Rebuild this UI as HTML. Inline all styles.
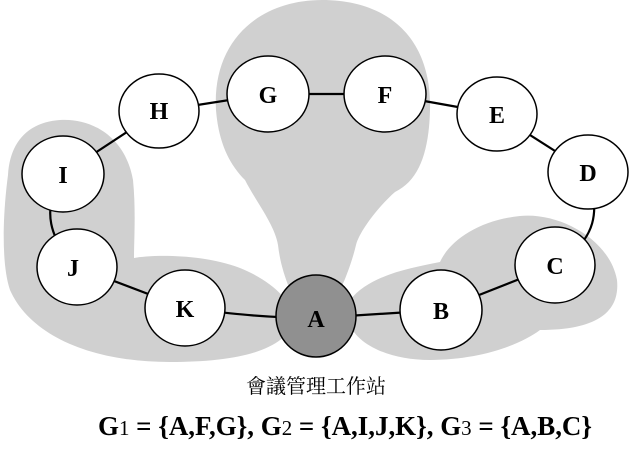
<!DOCTYPE html>
<html><head><meta charset="utf-8"><style>
body{margin:0;background:#fff;width:631px;height:450px;overflow:hidden}
svg{display:block}
</style></head><body>
<svg width="631" height="450" viewBox="0 0 631 450" xmlns="http://www.w3.org/2000/svg">
<g fill="#d0d0d0">
<path d="M216,110 C212,40 260,0 322,0 C390,0 432,40 430,110 C429,150 420,180 395,192 C380,205 360,230 356,245 C352,262 345,280 340,290 L290,290 C284,275 280,262 278,245 C275,225 255,200 245,180 C225,160 218,135 216,110 Z"/>
<path d="M8,175 C10,140 30,122 60,120 C90,118 125,135 133,180 C136,210 134,240 134,258 C150,255 200,253 240,268 C270,280 292,300 295,320 C285,350 240,362 170,362 C90,362 30,335 10,290 C0,260 4,205 8,175 Z"/>
<path d="M350,300 C370,275 410,268 440,262 C450,240 480,220 520,216 C560,212 610,240 617,280 C620,310 600,330 540,330 C520,345 480,360 430,360 C390,360 355,345 348,320 Z"/>
</g>
<g stroke="#000" stroke-width="2.2" fill="none">
<path d="M159,111 L268,94"/>
<path d="M268,94 L385,94"/>
<path d="M385,94 L497,114"/>
<path d="M497,114 L588,172"/>
<path d="M588,172 C600,210 598,240 555,265"/>
<path d="M555,265 L441,310"/>
<path d="M441,310 L316,318"/>
<path d="M316,318 C260,318 220,312 185,308"/>
<path d="M185,308 L77,267"/>
<path d="M77,267 C50,240 40,210 63,174"/>
<path d="M63,174 L159,111"/>
</g>
<g stroke="#000" stroke-width="1.5" fill="#fff">
<ellipse cx="159" cy="111" rx="40" ry="37"/>
<ellipse cx="268" cy="94" rx="41" ry="38"/>
<ellipse cx="385" cy="94" rx="41" ry="38"/>
<ellipse cx="497" cy="114" rx="40" ry="37"/>
<ellipse cx="588" cy="172" rx="40" ry="37"/>
<ellipse cx="555" cy="265" rx="40" ry="38"/>
<ellipse cx="441" cy="310" rx="41" ry="40"/>
<ellipse cx="185" cy="308" rx="40" ry="38"/>
<ellipse cx="77" cy="267" rx="40" ry="38"/>
<ellipse cx="63" cy="174" rx="41" ry="38"/>
<ellipse cx="316" cy="316" rx="40" ry="41" fill="#909090"/>
</g>
<g font-family="Liberation Serif, serif" font-weight="bold" font-size="24" text-anchor="middle">
<text x="159" y="119">H</text>
<text x="268" y="103">G</text>
<text x="385" y="103">F</text>
<text x="497" y="123">E</text>
<text x="588" y="181">D</text>
<text x="555" y="274">C</text>
<text x="441" y="319">B</text>
<text x="316" y="327">A</text>
<text x="185" y="317">K</text>
<text x="73" y="276">J</text>
<text x="63" y="183">I</text>
</g>
<text x="316" y="393" text-anchor="middle" font-family="Liberation Serif, 'Noto Serif CJK SC', serif" font-size="20">會議管理工作站</text>
<text x="98" y="435" font-family="Liberation Serif, serif" font-weight="bold" font-size="27" textLength="494" lengthAdjust="spacingAndGlyphs">G<tspan font-weight="normal" font-size="21">1</tspan> = {A,F,G}, G<tspan font-weight="normal" font-size="21">2</tspan> = {A,I,J,K}, G<tspan font-weight="normal" font-size="21">3</tspan> = {A,B,C}</text>
</svg>
</body></html>
